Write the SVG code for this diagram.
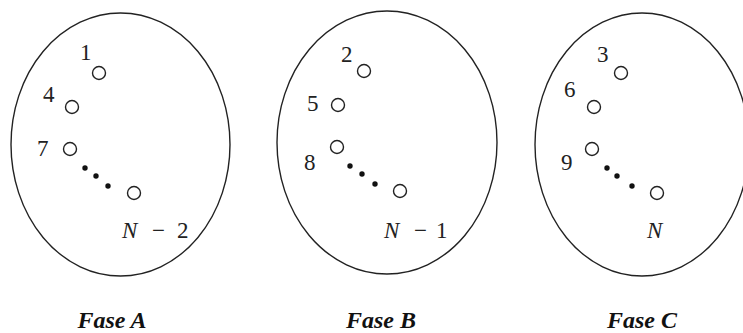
<svg xmlns="http://www.w3.org/2000/svg" width="743" height="333" viewBox="0 0 743 333">
<style>
.set{fill:none;stroke:#222;stroke-width:1.4}
.node{fill:#fff;stroke:#222;stroke-width:1.4}
.dot{fill:#111}
.lbl{font-family:"Liberation Serif","Times New Roman",serif;font-size:23px;fill:#222}
.it{font-style:italic}
.cap{font-family:"Liberation Serif","Times New Roman",serif;font-size:24px;font-weight:bold;font-style:italic;fill:#111;text-anchor:middle}
</style>
<rect width="743" height="333" fill="#fff"/>
<g id="faseA">
<ellipse class="set" cx="120.5" cy="144.5" rx="109.5" ry="131.5"/>
<circle class="node" cx="99" cy="73" r="6.5"/>
<circle class="node" cx="72" cy="107" r="6.5"/>
<circle class="node" cx="70" cy="149" r="6.5"/>
<circle class="node" cx="134" cy="193" r="6.5"/>
<circle class="dot" cx="85" cy="168" r="2.7"/>
<circle class="dot" cx="96" cy="176" r="2.7"/>
<circle class="dot" cx="108" cy="186" r="2.7"/>
<text class="lbl" x="80" y="60">1</text>
<text class="lbl" x="43" y="102">4</text>
<text class="lbl" x="37" y="156">7</text>
<text class="lbl" y="238"><tspan class="it" x="122">N</tspan><tspan x="152">−</tspan><tspan x="177">2</tspan></text>
<text class="cap" x="112" y="328">Fase A</text>
</g>
<g id="faseB">
<ellipse class="set" cx="387" cy="142.5" rx="110" ry="131.5"/>
<circle class="node" cx="364" cy="71" r="6.5"/>
<circle class="node" cx="338" cy="105" r="6.5"/>
<circle class="node" cx="337" cy="147" r="6.5"/>
<circle class="node" cx="400" cy="191" r="6.5"/>
<circle class="dot" cx="350" cy="166" r="2.7"/>
<circle class="dot" cx="362" cy="174" r="2.7"/>
<circle class="dot" cx="375" cy="184" r="2.7"/>
<text class="lbl" x="341" y="62">2</text>
<text class="lbl" x="307" y="111">5</text>
<text class="lbl" x="304" y="170">8</text>
<text class="lbl" y="238"><tspan class="it" x="384">N</tspan><tspan x="414">−</tspan><tspan x="436">1</tspan></text>
<text class="cap" x="381" y="328">Fase B</text>
</g>
<g id="faseC">
<ellipse class="set" cx="642" cy="144.5" rx="107" ry="131.5"/>
<circle class="node" cx="621" cy="73" r="6.5"/>
<circle class="node" cx="594" cy="107" r="6.5"/>
<circle class="node" cx="592" cy="149" r="6.5"/>
<circle class="node" cx="657" cy="193" r="6.5"/>
<circle class="dot" cx="607" cy="168" r="2.7"/>
<circle class="dot" cx="617" cy="176" r="2.7"/>
<circle class="dot" cx="632" cy="186" r="2.7"/>
<text class="lbl" x="597" y="62">3</text>
<text class="lbl" x="564" y="97">6</text>
<text class="lbl" x="561" y="170">9</text>
<text class="lbl it" x="647" y="238">N</text>
<text class="cap" x="642" y="328">Fase C</text>
</g>
<g id="connectors"></g>
</svg>
